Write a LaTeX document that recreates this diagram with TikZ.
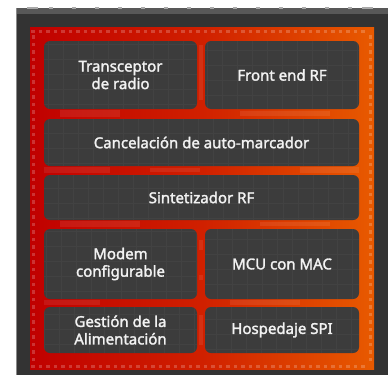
\documentclass[tikz,border=0pt]{standalone}
\usepackage{fontspec}
\setmainfont{Noto Sans}
\newfontfamily\blkfont{Noto Sans}[FakeBold=1.9]
\definecolor{chipbody}{HTML}{333333}
\definecolor{chipband}{HTML}{585858}
\definecolor{chippin}{HTML}{A8A8A8}
\definecolor{chipedge}{HTML}{8A8A8A}
\definecolor{redL}{HTML}{C00000}
\definecolor{redM}{HTML}{D02000}
\definecolor{redR}{HTML}{E85A00}
\definecolor{boxfill}{HTML}{3C3C3C}
\definecolor{boxtext}{HTML}{F2F2F2}
\tikzset{
  blk/.style={draw=none, fill=boxfill, rounded corners=6pt, inner sep=0pt,
    text=boxtext, align=center, font=\blkfont\fontsize{15}{17.5}\selectfont,
    path picture={\draw[white, opacity=0.035, line width=0.8pt, step=15pt]
      (path picture bounding box.south west) grid (path picture bounding box.north east);}},
  pad/.style={fill=white, fill opacity=0.2},
  pin/.style={fill=chippin},
  trace/.style={fill=white, fill opacity=0.08}
}
\begin{document}
\begin{tikzpicture}[x=1pt, y=-1pt]
\useasboundingbox (0,0) rectangle (388,375);
% chip body
\fill[chipbody] (16,8) rectangle (388,375);
\fill[chipband] (16,8) rectangle (388,14);
\fill[chipedge] (16,8) rectangle (17,375);
% pins on top edge
\fill[pin] (27,7) rectangle (38,9);
\foreach \px in {51,74,...,350} {\fill[pin] (\px-2,7) rectangle (\px+2,9);}
\fill[pin] (362,7) rectangle (373,9);
% die
\fill[left color=redL, right color=redR, middle color=redM] (30,27) rectangle (374,369);
% pads along die edges
\foreach \px in {33,40.5,...,370} {\fill[pad] (\px-1.6,29.5) rectangle (\px+1.6,32.7);
  \fill[pad] (\px-1.6,364.5) rectangle (\px+1.6,367.7);}
\foreach \py in {37,44.5,...,360} {\fill[pad] (31.5,\py-1.6) rectangle (34.7,\py+1.6);
  \fill[pad] (368.8,\py-1.6) rectangle (372,\py+1.6);}
% traces in the gaps
\fill[trace] (60,110) rectangle (120,117);
\fill[trace] (240,111) rectangle (330,116);
\fill[trace] (44,167) rectangle (110,173);
\fill[trace] (150,168) rectangle (200,172);
\fill[trace] (300,167) rectangle (359,173);
\fill[trace] (60,221) rectangle (140,227);
\fill[trace] (260,222) rectangle (330,226);
\fill[trace] (44,300) rectangle (100,305);
\fill[trace] (230,300) rectangle (300,305);
\fill[trace] (199,45) rectangle (203,100);
\fill[trace] (199,240) rectangle (203,250);
\fill[trace] (199,275) rectangle (203,280);
\fill[trace] (199,315) rectangle (203,345);
% blocks
\node[blk, minimum width=153pt, minimum height=68pt] (trx) at (120.5,75) {Transceptor\\de radio};
\node[blk, minimum width=154pt, minimum height=68pt] (fe) at (282,75) {Front end RF};
\node[blk, minimum width=315pt, minimum height=47pt] (canc) at (201.5,142.5) {Cancelación de auto-marcador};
\node[blk, minimum width=315pt, minimum height=45pt] (sint) at (201.5,197.5) {Sintetizador RF};
\node[blk, minimum width=153pt, minimum height=70pt] (mod) at (120.5,264) {Modem\\configurable};
\node[blk, minimum width=154pt, minimum height=70pt] (mcu) at (282,264) {MCU con MAC};
\node[blk, minimum width=153pt, minimum height=46pt] (pwr) at (120.5,330) {Gestión de la\\Alimentación};
\node[blk, minimum width=154pt, minimum height=46pt] (spi) at (282,330) {Hospedaje SPI};
\end{tikzpicture}
\end{document}
